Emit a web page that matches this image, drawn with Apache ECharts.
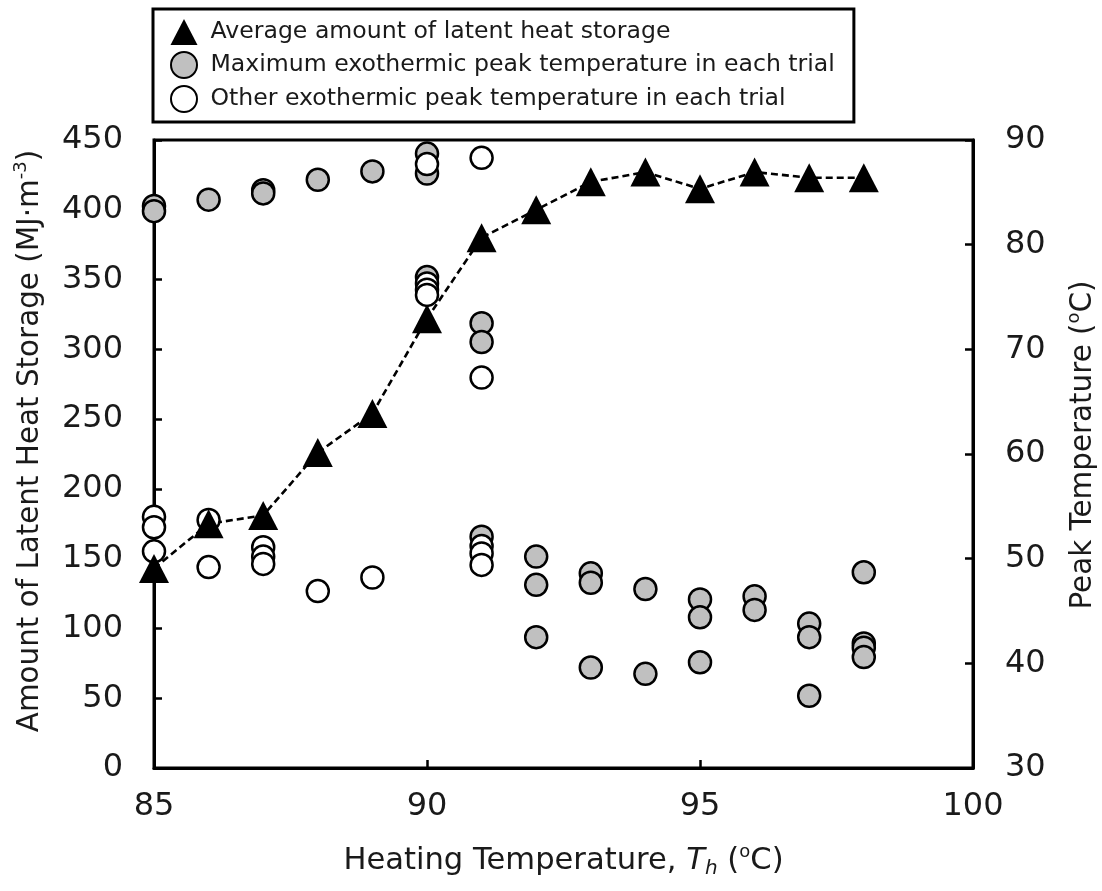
<!DOCTYPE html>
<html>
<head>
<meta charset="utf-8">
<script src="https://cdn.jsdelivr.net/npm/echarts@6/dist/echarts.min.js"></script>
<style>
  html, body { margin: 0; padding: 0; background: #fff; }
  #chart { width: 1102px; height: 891px; }
</style>
</head>
<body>
<div id="chart"></div>
<script>
// Heating temperatures (ºC) and the mean latent heat stored at each (MJ·m-3)
const heatingTemps = [85, 86, 87, 88, 89, 90, 91, 92, 93, 94, 95, 96, 97, 98];
const avgLatentHeat = [143, 175, 181, 226, 254, 322, 380, 400, 420, 427, 415, 427, 423, 423];

// Highest exothermic peak of each trial: [heating temp, peak temp]
const maxPeakTemps = [
  [85, 83.7], [85, 83.2], [86, 84.3], [87, 85.2], [87, 84.9], [88, 86.2], [89, 87.0],
  [90, 88.7], [90, 86.8], [90, 76.9],
  [91, 72.5], [91, 70.7], [91, 52.1],
  [92, 50.2], [92, 47.5], [92, 42.5],
  [93, 48.6], [93, 47.7], [93, 39.6],
  [94, 47.1], [94, 39.0],
  [95, 46.1], [95, 44.4], [95, 40.1],
  [96, 46.4], [96, 45.1],
  [97, 43.8], [97, 42.5], [97, 36.9],
  [98, 48.7], [98, 41.9], [98, 41.5], [98, 40.6]
];

// Remaining exothermic peaks of each trial: [heating temp, peak temp]
const otherPeakTemps = [
  [85, 54.0], [85, 53.0], [85, 50.7],
  [86, 53.7], [86, 49.2],
  [87, 51.1], [87, 50.2], [87, 49.5],
  [88, 46.9], [89, 48.2],
  [90, 87.7], [90, 76.3], [90, 75.7], [90, 75.2],
  [91, 88.3], [91, 67.3], [91, 51.2], [91, 50.5], [91, 49.4]
];

// Axis ranges and tick steps
const xRange = [85, 100, 5];
const heatRange = [0, 450, 50];
const peakRange = [30, 90, 10];

const FONT = 'DejaVu Sans';
const INK = '#1a1a1a';
const GRAY = '#c0c0c0';

const avgPoints = heatingTemps.map((t, i) => [t, avgLatentHeat[i]]);

function nameStyle(size, extra) {
  return Object.assign({
    fontFamily: FONT, fontSize: size, color: INK, lineHeight: 36,
    rich: {
      sup: { fontFamily: FONT, fontSize: 18, color: INK, verticalAlign: 'top', lineHeight: 18 },
      it: { fontFamily: FONT, fontSize: size, color: INK, fontStyle: 'italic', lineHeight: 36 },
      sub: { fontFamily: FONT, fontSize: 20, color: INK, fontStyle: 'italic', verticalAlign: 'bottom', lineHeight: 20 }
    }
  }, extra || {});
}
const labelStyle = { fontFamily: FONT, fontSize: 32, color: INK };
const axisLine = { show: true, lineStyle: { color: '#000', width: 3 } };
const axisTick = { show: true, inside: true, length: 8, lineStyle: { color: '#000', width: 2.5 } };

const chart = echarts.init(document.getElementById('chart'), null, { renderer: 'canvas' });

chart.setOption({
  backgroundColor: '#fff',
  animation: false,
  grid: {
    left: 154, right: 129, top: 140, bottom: 123,
    outerBoundsMode: 'none', containLabel: false,
    show: true, borderColor: '#000', borderWidth: 3, backgroundColor: 'transparent'
  },
  legend: {
    orient: 'vertical',
    left: 153, top: 9,
    padding: [10, 19, 9, 17],
    borderColor: '#000', borderWidth: 3, borderRadius: 0,
    backgroundColor: '#fff',
    itemWidth: 27, itemHeight: 26, itemGap: 6,
    textStyle: { fontFamily: FONT, fontSize: 23.6, lineHeight: 26, color: INK, padding: [0, 0, 0, 8] },
    data: [
      'Average amount of latent heat storage',
      'Maximum exothermic peak temperature in each trial',
      'Other exothermic peak temperature in each trial'
    ]
  },
  xAxis: {
    type: 'value',
    min: xRange[0], max: xRange[1], interval: xRange[2],
    name: 'Heating Temperature, {it|T}{sub|h} ({sup|o}C)',
    nameLocation: 'middle', nameGap: 75,
    nameTextStyle: nameStyle(30.6),
    axisLine, axisTick,
    axisLabel: Object.assign({ margin: 23 }, labelStyle),
    splitLine: { show: false }
  },
  yAxis: [
    {
      type: 'value',
      min: heatRange[0], max: heatRange[1], interval: heatRange[2],
      name: 'Amount of Latent Heat Storage (MJ·m{sup|-3})',
      nameLocation: 'middle', nameGap: 106, nameRotate: 90,
      nameTextStyle: nameStyle(29.4, { padding: [0, 0, 0, 26] }),
      axisLine, axisTick,
      axisLabel: Object.assign({ margin: 31 }, labelStyle),
      splitLine: { show: false }
    },
    {
      type: 'value',
      position: 'right',
      min: peakRange[0], max: peakRange[1], interval: peakRange[2],
      name: 'Peak Temperature ({sup|o}C)',
      nameLocation: 'middle', nameGap: 92, nameRotate: 90,
      nameTextStyle: nameStyle(29.4, { padding: [0, 0, 0, 18] }),
      axisLine, axisTick,
      axisLabel: Object.assign({ margin: 32 }, labelStyle),
      splitLine: { show: false }
    }
  ],
  series: [
    {
      // dashed trend through the averages, kept beneath the circles
      type: 'line',
      yAxisIndex: 0,
      data: avgPoints,
      symbol: 'none',
      lineStyle: { color: '#000', width: 2.6, type: [7, 4] },
      z: 1,
      silent: true
    },
    {
      name: 'Maximum exothermic peak temperature in each trial',
      type: 'scatter',
      yAxisIndex: 1,
      data: maxPeakTemps,
      symbol: 'circle',
      symbolSize: 22,
      itemStyle: { color: GRAY, borderColor: '#000', borderWidth: 2.5, opacity: 1 },
      z: 2
    },
    {
      name: 'Other exothermic peak temperature in each trial',
      type: 'scatter',
      yAxisIndex: 1,
      data: otherPeakTemps,
      symbol: 'circle',
      symbolSize: 22,
      itemStyle: { color: '#fff', borderColor: '#000', borderWidth: 2.5, opacity: 1 },
      z: 3
    },
    {
      name: 'Average amount of latent heat storage',
      type: 'scatter',
      yAxisIndex: 0,
      data: avgPoints,
      symbol: 'triangle',
      symbolSize: [30, 29],
      itemStyle: { color: '#000', borderColor: '#000', borderWidth: 0, opacity: 1 },
      z: 4
    }
  ]
});
</script>
</body>
</html>
